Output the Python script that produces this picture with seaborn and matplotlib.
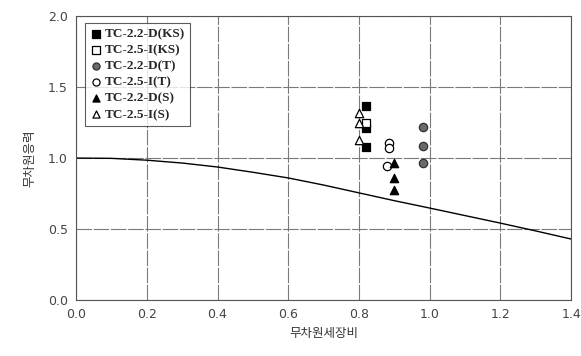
import matplotlib
matplotlib.use("Agg")
import matplotlib.pyplot as plt
import seaborn as sns
import pandas as pd

# Curve (design curve)
curve_x = [0.0, 0.1, 0.2, 0.3, 0.4, 0.5, 0.6, 0.7, 0.8, 0.9, 1.0, 1.1, 1.2, 1.3, 1.4]
curve_y = [1.0, 0.998, 0.985, 0.965, 0.937, 0.90, 0.86, 0.81, 0.755, 0.70, 0.648, 0.595, 0.542, 0.487, 0.43]

# Test series
labels = ["TC-2.2-D(KS)", "TC-2.5-I(KS)", "TC-2.2-D(T)", "TC-2.5-I(T)", "TC-2.2-D(S)", "TC-2.5-I(S)"]
ks_d_x = [0.82, 0.82, 0.82]
ks_d_y = [1.37, 1.21, 1.08]
ks_i_x = [0.82]
ks_i_y = [1.25]
t_d_x = [0.98, 0.98, 0.98]
t_d_y = [1.22, 1.085, 0.965]
t_i_x = [0.885, 0.885, 0.88]
t_i_y = [1.105, 1.07, 0.945]
s_d_x = [0.90, 0.90, 0.90]
s_d_y = [0.965, 0.86, 0.775]
s_i_x = [0.80, 0.80, 0.80]
s_i_y = [1.32, 1.25, 1.13]

xticks = [0.0, 0.2, 0.4, 0.6, 0.8, 1.0, 1.2, 1.4]
yticks = [0.0, 0.5, 1.0, 1.5, 2.0]

sns.set_style("white")
plt.rcParams['font.family'] = ['DejaVu Sans', 'Noto Sans CJK KR']

fig = plt.figure(figsize=(5.81, 3.56), dpi=100)
ax = fig.add_axes([0.131, 0.157, 0.852, 0.798])

ax.grid(True, color="#7a7a7a", linewidth=0.8, linestyle=(0, (14, 1.5)))
ax.set_axisbelow(True)

sns.lineplot(x=curve_x, y=curve_y, ax=ax, color="black", linewidth=1.0, legend=False)

styles = [
    (ks_d_x, ks_d_y, "s", "black", "black"),
    (ks_i_x, ks_i_y, "s", "white", "black"),
    (t_d_x, t_d_y, "o", "#6a6a6a", "#303030"),
    (t_i_x, t_i_y, "o", "white", "black"),
    (s_d_x, s_d_y, "^", "black", "black"),
    (s_i_x, s_i_y, "^", "white", "black"),
]
for (xs, ys, m, fc, ec), lab in zip(styles, labels):
    sns.scatterplot(x=xs, y=ys, ax=ax, marker=m, s=36, color=fc, edgecolor=ec,
                    linewidth=0.9, label=lab, zorder=3)

ax.set_xlim(0, 1.4)
ax.set_ylim(0, 2.0)
ax.set_xticks(xticks)
ax.set_yticks(yticks)
ax.set_xticklabels([f"{v:.1f}" for v in xticks])
ax.set_yticklabels([f"{v:.1f}" for v in yticks])
ax.tick_params(axis="both", labelsize=9, colors="#444444", length=0, pad=6)
for s in ax.spines.values():
    s.set_color("#555555")
    s.set_linewidth(0.8)

ax.set_xlabel("무차원세장비", fontsize=9, color="#333333",
              family=['Noto Sans CJK KR', 'DejaVu Sans'], labelpad=4)
ax.set_ylabel("무차원응력", fontsize=9, color="#333333",
              family=['Noto Sans CJK KR', 'DejaVu Sans'], labelpad=8)

leg = ax.legend(loc="upper left", bbox_to_anchor=(0.018, 0.975), frameon=True, fancybox=False,
                prop={"family": "Liberation Serif", "weight": "bold", "size": 9.5},
                handletextpad=0.15, labelspacing=0.3, borderpad=0.35, handlelength=1.0,
                borderaxespad=0.0, markerscale=0.85)
leg.get_frame().set_edgecolor("#333333")
leg.get_frame().set_linewidth(0.8)

fig.savefig("out.png", dpi=100)
